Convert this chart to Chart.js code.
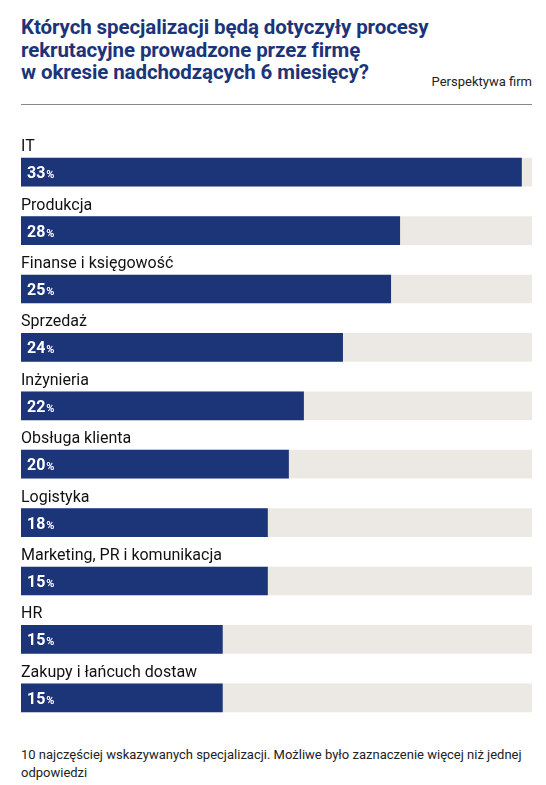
<!DOCTYPE html>
<html><head><meta charset="utf-8">
<script src="https://cdn.jsdelivr.net/npm/chart.js@4"></script>
<style>
body{margin:0;width:546px;height:785px;background:#fff;font-family:Roboto,"Noto Sans",sans-serif;position:relative;overflow:hidden}
#title{position:absolute;left:21px;top:16px;width:500px;font-size:20.5px;font-weight:700;color:#1c3478;line-height:22.5px;letter-spacing:-0.1px}
#persp{position:absolute;right:14px;top:74px;font-size:13px;color:#222}
#rule{position:absolute;left:21px;top:104px;width:511px;border-top:1px solid #888}
#wrap{position:absolute;left:21px;top:120px;width:511px;height:607px}
#foot{position:absolute;left:21px;top:746px;width:515px;font-size:13px;color:#222;line-height:18px}
</style></head><body>
<div id="title">Których specjalizacji będą dotyczyły procesy<br>rekrutacyjne prowadzone przez firmę<br>w okresie nadchodzących 6 miesięcy?</div>
<div id="persp">Perspektywa firm</div>
<div id="rule"></div>
<div id="wrap"><canvas id="c"></canvas></div>
<div id="foot">10 najczęściej wskazywanych specjalizacji. Możliwe było zaznaczenie więcej niż jednej odpowiedzi</div>
<script>
const categories=["IT","Produkcja","Finanse i księgowość","Sprzedaż","Inżynieria","Obsługa klienta","Logistyka","Marketing, PR i komunikacja","HR","Zakupy i łańcuch dostaw"];
const values=[33.3,25.2,24.6,21.4,18.8,17.8,16.4,16.4,13.4,13.4];
const valueLabels=["33","28","25","24","22","20","18","15","15","15"];
const axisMax=34;
const track=categories.map(()=>axisMax);
const labelPlugin={id:'lbl',afterDatasetsDraw(chart){
  const ctx=chart.ctx;const meta=chart.getDatasetMeta(1);
  meta.data.forEach((b,i)=>{
    const top=b.y-b.height/2;
    ctx.save();
    ctx.fillStyle='#111';ctx.font='16px Roboto';ctx.textBaseline='bottom';ctx.textAlign='left';
    ctx.fillText(categories[i],chart.chartArea.left,top-3);
    ctx.fillStyle='#fff';ctx.font='bold 16px Roboto';ctx.textBaseline='alphabetic';
    const x=b.base+6, y=b.y+6;
    ctx.fillText(valueLabels[i],x,y);
    const w=ctx.measureText(valueLabels[i]).width;
    ctx.font='bold 11px Roboto';ctx.fillText('%',x+w+1,y);
    ctx.restore();
  });
}};
new Chart(document.getElementById('c'),{type:'bar',
 data:{labels:categories,datasets:[
  {data:track,backgroundColor:'#ece9e4',grouped:false,barThickness:28,order:2},
  {data:values,backgroundColor:'#1c3478',grouped:false,barThickness:28,order:1}]},
 options:{indexAxis:'y',responsive:true,maintainAspectRatio:false,animation:false,
  layout:{padding:{top:23,left:0,right:0,bottom:0}},
  plugins:{legend:{display:false},tooltip:{enabled:false}},
  scales:{x:{display:false,min:0,max:axisMax},y:{display:false}}},
 plugins:[labelPlugin]});
</script></body></html>
